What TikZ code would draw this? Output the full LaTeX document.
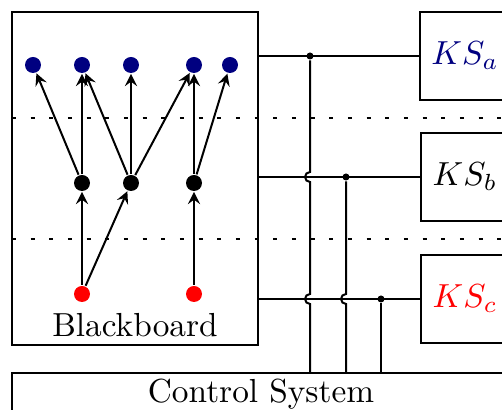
\documentclass[tikz,border=0pt]{standalone}
\usepackage{amsmath}
\usetikzlibrary{arrows, calc}
\definecolor{navy}{rgb}{0,0,0.5}

\begin{document}
\begin{tikzpicture}[
            > = stealth, % arrow head style
            x = 0.3pt, y = -0.3pt, % one unit is one pixel, y runs down
            semithick % line style
        ]

        \tikzstyle{blob}=[
            circle,
            fill,
            inner sep = 0pt,
            minimum size = 4.8pt
        ]
        \tikzstyle{junction}=[circle, fill, inner sep = 0pt, minimum size = 2.1pt]
        \tikzstyle{ksbox}=[draw, minimum width = 26.4pt, minimum height = 26.4pt]
        \tikzstyle{layerline}=[thick, dash pattern = on 1.2pt off 4.4pt]

        \useasboundingbox (0,0) rectangle (502,410);
        \clip (0,0) rectangle (502,410);

        % blackboard
        \node[draw, minimum width = 73.8pt, minimum height = 99.9pt] (bb) at (135,178.5) {};
        \node (bbl) at (135,325) {Blackboard};

        \draw[layerline] (12,118) -- (510,118);
        \draw[layerline] (12,239) -- (510,239);

        \node[blob, navy] (a1) at (33,65)  {};
        \node[blob, navy] (a2) at (82,65)  {};
        \node[blob, navy] (a3) at (131,65) {};
        \node[blob, navy] (a4) at (194,65) {};
        \node[blob, navy] (a5) at (230,65) {};

        \node[blob] (b1) at (82,183)  {};
        \node[blob] (b2) at (131,183) {};
        \node[blob] (b3) at (194,183) {};

        \node[blob, red] (c1) at (82,294)  {};
        \node[blob, red] (c2) at (194,294) {};

        \path[->] (c1) edge node {} (b1);
        \path[->] (c1) edge node {} (b2);
        \path[->] (c2) edge node {} (b3);

        \path[->] (b1) edge node {} (a1);
        \path[->] (b1) edge node {} (a2);
        \path[->] (b2) edge node {} (a2);
        \path[->] (b2) edge node {} (a3);
        \path[->] (b2) edge node {} (a4);
        \path[->] (b3) edge node {} (a4);
        \path[->] (b3) edge node {} (a5);

        % knowledge sources
        \node[ksbox, text = navy] (ka) at (465,56)  {$KS_a$};
        \node[ksbox] (kb) at (465,177) {$KS_b$};
        \node[ksbox, text = red] (kc) at (465,299) {$KS_c$};

        \node[draw, inner sep = 0pt, minimum width = 149.4pt, minimum height = 12.6pt] (cs) at (261,394) {Control System};

        \draw (bb.east |- ka.west) -- (ka.west);
        \draw (bb.east |- kb.west) -- (kb.west);
        \draw (bb.east |- kc.west) -- (kc.west);

        \node[junction] (j1) at (310,56)  {};
        \node[junction] (j2) at (346,177) {};
        \node[junction] (j3) at (381,299) {};

        \draw (j1) -- ($(j1 |- kb.west)+(0pt,1.5pt)$) arc[start angle = 90, end angle = 270, radius = 1.5pt]
            -- ($(j1 |- kc.west)+(0pt,1.5pt)$) arc[start angle = 90, end angle = 270, radius = 1.5pt]
            -- (j1 |- cs.north);
        \draw (j2) -- ($(j2 |- kc.west)+(0pt,1.5pt)$) arc[start angle = 90, end angle = 270, radius = 1.5pt]
            -- (j2 |- cs.north);
        \draw (j3) -- (j3 |- cs.north);
    \end{tikzpicture}
\end{document}
